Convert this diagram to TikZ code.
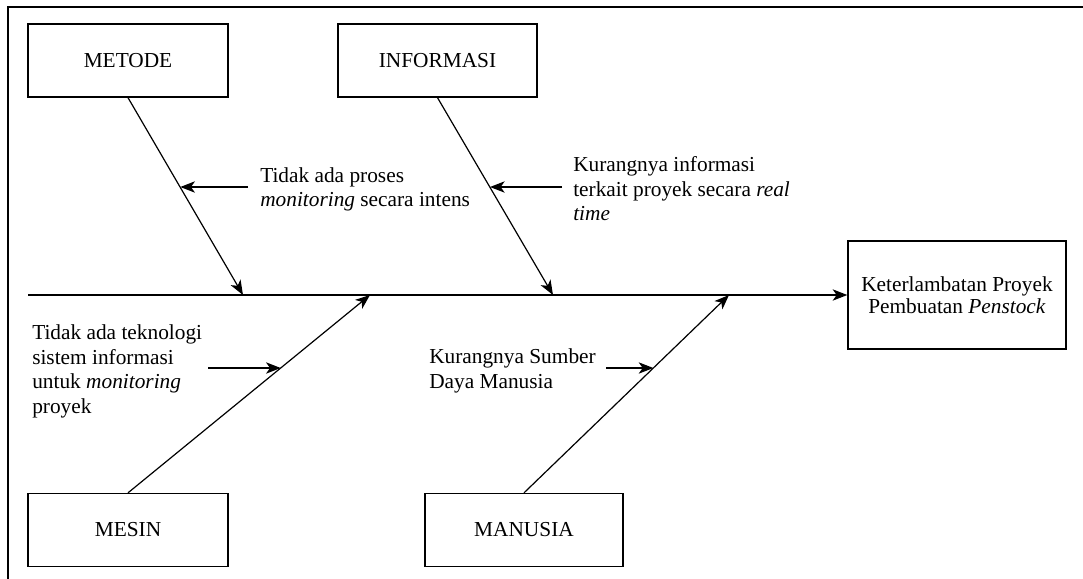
\documentclass[tikz,border=0pt]{standalone}
\usepackage{fontspec}
\setmainfont{Liberation Serif}
\usetikzlibrary{arrows.meta,calc}
\begin{document}
\begin{tikzpicture}[x=0.75pt,y=-0.75pt,
  cat/.style={draw,line width=1pt,minimum width=150pt,minimum height=54.75pt,inner sep=0pt,font=\fontsize{16}{18.4}\selectfont},
  effect/.style={draw,line width=1pt,minimum width=163.5pt,minimum height=81pt,inner sep=0pt,align=center,font=\fontsize{16}{16.5}\selectfont},
  cause/.style={anchor=north west,inner sep=0pt,align=left,font=\fontsize{16}{18.4}\selectfont},
  bone/.style={line width=0.9pt,-{Stealth[length=11pt,width=8.5pt,inset=3pt]}},
  spine/.style={line width=1pt,-{Stealth[length=11pt,width=8.5pt,inset=3pt]}},
  subarrow/.style={line width=1pt,-{Stealth[length=11pt,width=8.5pt,inset=3pt]}},
  frame/.style={line width=1.1pt}
]
\useasboundingbox (0,0) rectangle (1083,579);
\fill[white] (0,0) rectangle (1083,579);
\draw[frame] (8,579) -- (8,7) -- (1083,7);

% category boxes
\node[cat] (metode) at (128,60.5) {METODE};
\node[cat,minimum width=149.25pt] (informasi) at (437.5,60.5) {INFORMASI};
\node[cat] (mesin) at (128,530) {MESIN};
\node[cat,minimum width=148.5pt] (manusia) at (524,530) {MANUSIA};
\node[effect] (effect) at (957,295) {Keterlambatan Proyek\\Pembuatan \textit{Penstock}};

% spine
\coordinate (tail) at (28,295);
\draw[spine] (tail) -- (effect.west);

% bones
\coordinate (m1) at (243,295);
\coordinate (i1) at (553,295);
\coordinate (s1) at (370,295);
\coordinate (u1) at (729,295);
\draw[bone] (metode.south) -- (m1);
\draw[bone] (informasi.south) -- (i1);
\draw[bone] (mesin.north) -- (s1);
\draw[bone] (manusia.north) -- (u1);

% points on bones
\coordinate (mp) at ($(metode.south)!0.4545!(m1)$);
\coordinate (ip) at ($(informasi.south)!0.4545!(i1)$);
\coordinate (sp) at ($(mesin.north)!0.631!(s1)$);
\coordinate (up) at ($(manusia.north)!0.631!(u1)$);

% sub-cause arrows
\coordinate (ms) at (248,187);
\coordinate (is) at (562,187);
\coordinate (ss) at (208,368);
\coordinate (us) at (606,368);
\draw[subarrow] (ms) -- (ms -| mp);
\draw[subarrow] (is) -- (is -| ip);
\draw[subarrow] (ss) -- (ss -| sp);
\draw[subarrow] (us) -- (us -| up);

% cause texts
\node[cause] (tm) at (260,167) {Tidak ada proses\\\textit{monitoring} secara intens};
\node[cause] (ti) at (573,156.5) {Kurangnya informasi\\terkait proyek secara \textit{real}\\\textit{time}};
\node[cause] (ts) at (32,324.5) {Tidak ada teknologi\\sistem informasi\\untuk \textit{monitoring}\\proyek};
\node[cause] (tu) at (429,348.5) {Kurangnya Sumber\\Daya Manusia};
\end{tikzpicture}
\end{document}
